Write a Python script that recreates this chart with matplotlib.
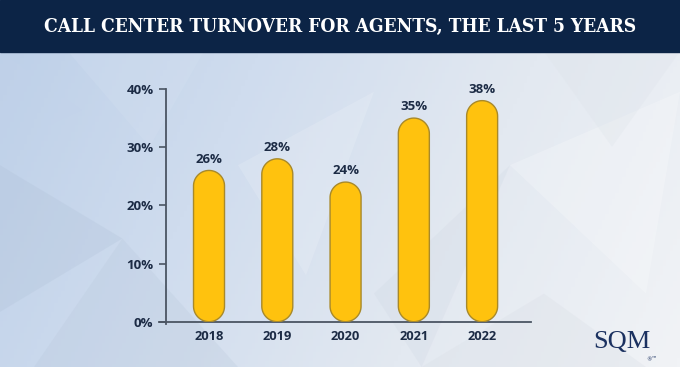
import numpy as np
import matplotlib
matplotlib.use("Agg")
import matplotlib.pyplot as plt
from matplotlib.patches import Polygon, Rectangle
from matplotlib.colors import LinearSegmentedColormap

years = ["2018", "2019", "2020", "2021", "2022"]
turnover = [26, 28, 24, 35, 38]
yticks = [0, 10, 20, 30, 40]
ytick_labels = ["0%", "10%", "20%", "30%", "40%"]
title = "CALL CENTER TURNOVER FOR AGENTS, THE LAST 5 YEARS"

W, H = 680, 367
fig = plt.figure(figsize=(W / 100, H / 100), dpi=100)

# background gradient
bg = fig.add_axes([0, 0, 1, 1], zorder=0)
bg.set_axis_off()
gx = np.linspace(0, 1, 200)
gy = np.linspace(0, 1, 120)
GX, GY = np.meshgrid(gx, gy)
grad = 0.8 * GX + 0.2 * (1 - GY)
cmap = LinearSegmentedColormap.from_list("bgc", ["#bccfe8", "#cfdcee", "#e3e9f1", "#f1f3f6"])
bg.imshow(grad, cmap=cmap, extent=[0, 1, 0, 1], aspect="auto", origin="lower")
bg.set_xlim(0, 1)
bg.set_ylim(0, 1)
# faint low-poly facets (decoration)
facets = [
    ([0.0, 0.18, 0.0], [0.55, 0.35, 0.15], "#aebfd6", 0.25),
    ([0.18, 0.35, 0.05], [0.35, 0.0, 0.0], "#b7c6da", 0.25),
    ([0.35, 0.55, 0.45], [0.55, 0.75, 0.25], "#ffffff", 0.15),
    ([0.55, 0.75, 0.62], [0.2, 0.55, 0.0], "#c9d2de", 0.2),
    ([0.75, 0.95, 1.0], [0.55, 0.2, 0.75], "#ffffff", 0.22),
    ([0.8, 1.0, 0.9], [0.86, 0.86, 0.6], "#dde3ea", 0.3),
    ([0.1, 0.3, 0.22], [0.86, 0.86, 0.6], "#d6e2f2", 0.25),
    ([0.62, 0.8, 0.95], [0.0, 0.2, 0.0], "#d9dee5", 0.3),
    ([0.0, 0.12, 0.0], [0.86, 0.7, 0.6], "#c3d3ea", 0.3),
]
for xs, ys, c, a in facets:
    bg.add_patch(Polygon(np.column_stack([xs, ys]), closed=True, facecolor=c,
                         edgecolor="none", alpha=a, zorder=1))
# title band
bg.add_patch(Rectangle((0, 1 - 52 / H), 1, 52 / H, color="#0c2446", zorder=2))
bg.text(0.5, 1 - 27 / H, title, ha="center", va="center", color="white",
        fontsize=13.8, family="DejaVu Serif", fontstretch="condensed",
        fontweight="bold", zorder=3)
# logo
bg.text(622 / W, 1 - 342 / H, "SQM", ha="center", va="center", color="#1b3160",
        fontsize=19, family="Liberation Serif", zorder=3)
bg.text(652 / W, 1 - 360 / H, "®™", ha="center", va="center", color="#1b3160",
        fontsize=4, family="DejaVu Sans", zorder=3)

left, right = 166, 530.6
bottom, top = 321.7, 89
ax = fig.add_axes([left / W, 1 - bottom / H, (right - left) / W, (bottom - top) / H], zorder=1)
ax.patch.set_alpha(0)
ax.set_xlim(-0.63, 4.71)
ax.set_ylim(0, 40)
for s in ax.spines.values():
    s.set_visible(False)

axis_color = "#4b5563"
text_color = "#1c2b45"
ax.plot([-0.019, 1], [0, 0], transform=ax.transAxes, color=axis_color, lw=1.3, clip_on=False, zorder=1)
ax.plot([0, 0], [-0.01, 1], transform=ax.transAxes, color=axis_color, lw=1.3, clip_on=False, zorder=1)

ax.set_yticks(yticks)
ax.set_yticklabels(ytick_labels)
ax.set_xticks(range(len(years)))
ax.set_xticklabels(years)
ax.tick_params(axis="y", length=5, width=1.2, color=axis_color, pad=4,
               labelsize=9.5, labelcolor=text_color)
ax.tick_params(axis="x", length=0, pad=6, labelsize=9.3, labelcolor=text_color)
for lab in ax.get_xticklabels() + ax.get_yticklabels():
    lab.set_fontweight("bold")
    lab.set_family("Open Sans")

# rounded (pill) bars
bw = 0.454
fig.canvas.draw()
p0 = ax.transData.transform((0, 0))
p1 = ax.transData.transform((1, 1))
aspect = (p1[0] - p0[0]) / (p1[1] - p0[1])
r = bw / 2
ry = r * aspect
t_top = np.linspace(0, np.pi, 40)
t_bot = np.linspace(np.pi, 2 * np.pi, 40)
for i, v in enumerate(turnover):
    xs = np.concatenate([i + r * np.cos(t_top), i + r * np.cos(t_bot)])
    ys = np.concatenate([v - ry + ry * np.sin(t_top), ry + ry * np.sin(t_bot)])
    ax.add_patch(Polygon(np.column_stack([xs, ys]), closed=True,
                         facecolor="#ffc20e", edgecolor="#a8892a", lw=1.0, zorder=3))
    ax.annotate(f"{v}%", (i, v), xytext=(0, 8), textcoords="offset points",
                ha="center", va="center", fontsize=9.5, fontweight="bold",
                family="Open Sans", color=text_color, zorder=4)

fig.savefig("out.png", dpi=100)
